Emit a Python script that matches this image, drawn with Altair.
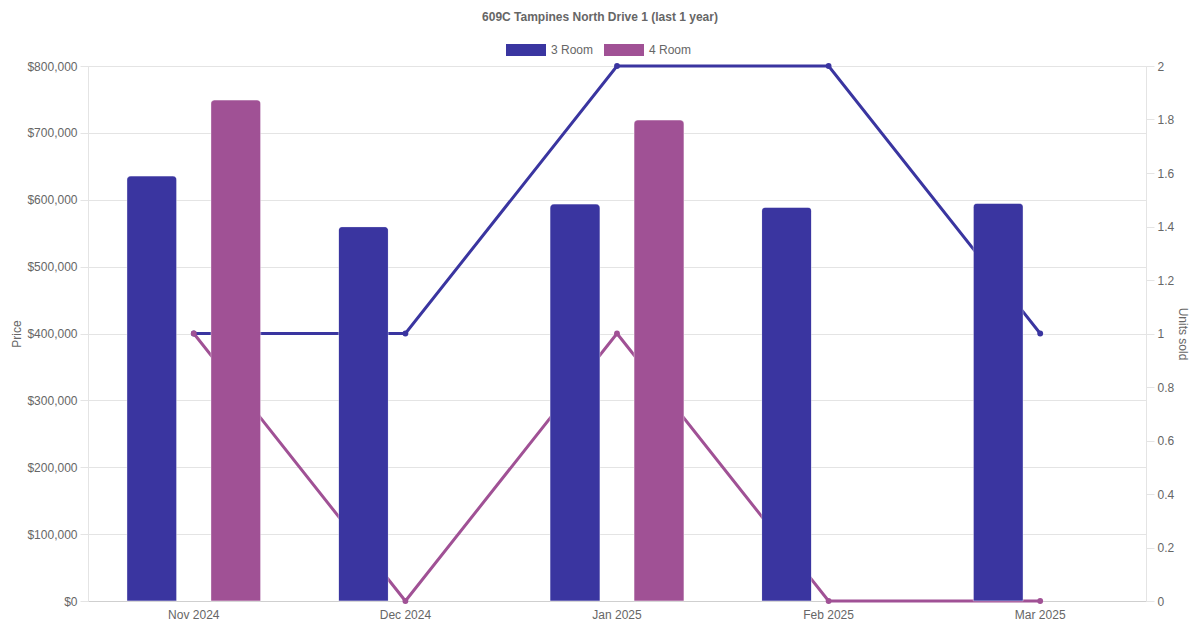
import altair as alt
import pandas as pd

months = ["Nov 2024", "Dec 2024", "Jan 2025", "Feb 2025", "Mar 2025"]
room_types = ["3 Room", "4 Room"]
price_3room = [635500, 559700, 593600, 588700, 594600]
price_4room = [749200, None, 719300, None, None]
units_3room = [1, 1, 2, 2, 1]
units_4room = [1, 0, 1, 0, 0]
colors = ["#3a35a0", "#a05195"]

price_rows = []
unit_rows = []
for i, m in enumerate(months):
    for t, prices, units in ((room_types[0], price_3room, units_3room),
                             (room_types[1], price_4room, units_4room)):
        if prices[i] is not None:
            price_rows.append({"month": m, "type": t, "price": prices[i]})
        unit_rows.append({"month": m, "type": t, "units": units[i]})
price_df = pd.DataFrame(price_rows)
unit_df = pd.DataFrame(unit_rows)

FONT = "Liberation Sans"
GRAY = "#666666"
GRID = "#e4e4e4"

x_enc = alt.X("month:N", sort=months,
              scale=alt.Scale(paddingInner=0, paddingOuter=0),
              axis=alt.Axis(title=None, labelAngle=0, ticks=False, labelPadding=8,
                            labelFontSize=12, labelColor=GRAY, labelFont=FONT,
                            domainColor="#cfcfcf", grid=False))

bars = alt.Chart(price_df).mark_bar(
    cornerRadiusTopLeft=4, cornerRadiusTopRight=4,
    stroke="white", strokeWidth=1, strokeOpacity=0.3
).encode(
    x=x_enc,
    xOffset=alt.XOffset("type:N", sort=room_types,
                        scale=alt.Scale(domain=room_types, paddingInner=0.405, paddingOuter=0.462)),
    y=alt.Y("price:Q",
            scale=alt.Scale(domain=[0, 800000], nice=False),
            axis=alt.Axis(title="Price", format="$,.0f", tickCount=8, orient="left",
                          grid=True, gridColor=GRID, tickColor=GRID, tickSize=8,
                          labelPadding=3, labelFontSize=12, labelColor=GRAY, labelFont=FONT,
                          titleFontSize=12, titleFont=FONT, titleColor=GRAY,
                          titleFontWeight="normal", titlePadding=3,
                          domainColor=GRID)),
    color=alt.Color("type:N",
                    scale=alt.Scale(domain=room_types, range=colors),
                    legend=alt.Legend(title=None, orient="none", direction="horizontal",
                                      legendX=418, legendY=-36,
                                      symbolType="M-1,-0.3H1V0.3H-1Z", symbolSize=1600,
                                      symbolStrokeWidth=0,
                                      labelFontSize=12, labelColor=GRAY, labelFont=FONT,
                                      labelOffset=5, columnPadding=10)),
)

lines = alt.Chart(unit_df).mark_line(strokeWidth=3).encode(
    x=x_enc,
    y=alt.Y("units:Q",
            scale=alt.Scale(domain=[0, 2], nice=False),
            axis=alt.Axis(title="Units sold", orient="right", tickCount=10,
                          labelExpr="format(datum.value, '~g')",
                          grid=False, tickColor=GRID, tickSize=8,
                          labelPadding=3, labelFontSize=12, labelColor=GRAY, labelFont=FONT,
                          titleFontSize=12, titleFont=FONT, titleColor=GRAY,
                          titleFontWeight="normal", titlePadding=2, titleAngle=90,
                          domainColor=GRID)),
    stroke=alt.Stroke("type:N", scale=alt.Scale(range=colors), legend=None),
    detail="type:N",
)

points = alt.Chart(unit_df).mark_circle(size=34, opacity=1).encode(
    x=x_enc,
    y=alt.Y("units:Q", scale=alt.Scale(domain=[0, 2], nice=False), axis=None),
    fill=alt.Fill("type:N", scale=alt.Scale(range=colors), legend=None),
)

chart = alt.layer(lines, points, bars).resolve_scale(y="independent").properties(
    width=1058, height=535,
    padding={"left": 80, "top": 58, "right": 46, "bottom": 21},
    autosize=alt.AutoSizeParams(type="none"),
    title=alt.TitleParams("609C Tampines North Drive 1 (last 1 year)", fontSize=12,
                          fontWeight="bold", color=GRAY, font=FONT, anchor="middle",
                          dx=-17, offset=6),
).configure_view(stroke=None).configure(background="white")

chart.save("out.html", embed_options={"renderer": "svg", "actions": False})
